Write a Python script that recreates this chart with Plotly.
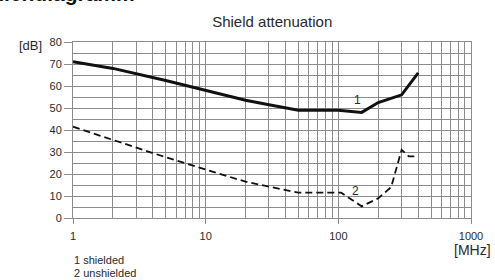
import plotly.graph_objects as go

# Data
freq_shielded = [1, 2, 5, 10, 20, 30, 50, 100, 150, 200, 300, 400]
atten_shielded = [71, 68, 62.5, 58, 53.5, 51.5, 49, 49, 48, 52.5, 56, 66]

freq_unshielded = [1, 2, 4, 10, 20, 50, 105, 150, 200, 250, 300, 340, 400]
atten_unshielded = [41.5, 35.5, 29.5, 22, 16.5, 11.5, 11.5, 5.3, 9, 14, 31, 28, 28]

x_major = [1, 10, 100, 1000]
x_major_labels = ["1", "10", "100", "1000"]
x_minor = [m * d for d in (1, 10, 100) for m in range(2, 10)]
y_ticks = [0, 10, 20, 30, 40, 50, 60, 70, 80]

grid_col = "#8c8c8c"
txt_col = "#2a2a2a"
font_fam = "Liberation Sans, Arial, sans-serif"

fig = go.Figure()
fig.add_trace(go.Scatter(x=freq_shielded, y=atten_shielded, mode="lines",
                         line=dict(color="#111111", width=3), showlegend=False))
fig.add_trace(go.Scatter(x=freq_unshielded, y=atten_unshielded, mode="lines",
                         line=dict(color="#111111", width=1.8, dash="7px,4px"),
                         showlegend=False))

fig.update_layout(
    width=495, height=280,
    margin=dict(l=73, r=18, t=42, b=62),
    paper_bgcolor="white", plot_bgcolor="white",
    font=dict(family=font_fam, color=txt_col, size=11),
    title=dict(text="Shield attenuation", x=0.55, xanchor="center", y=0.922,
               yanchor="middle", font=dict(size=15, color=txt_col)),
)

fig.update_xaxes(
    type="log", range=[0, 3],
    tickmode="array", tickvals=x_major, ticktext=x_major_labels,
    ticks="outside", ticklen=5, tickcolor=grid_col, tickwidth=1,
    ticklabelstandoff=3,
    showgrid=True, gridcolor=grid_col, gridwidth=1,
    showline=True, linecolor=grid_col, linewidth=1, mirror=True,
    minor=dict(tickmode="array", tickvals=x_minor, showgrid=True,
               gridcolor=grid_col, gridwidth=1, ticks=""),
    zeroline=False, tickfont=dict(size=11, color=txt_col),
)
fig.update_yaxes(
    range=[0, 80], tickmode="array", tickvals=y_ticks,
    ticks="outside", ticklen=8, tickcolor=grid_col, tickwidth=1,
    showgrid=True, gridcolor=grid_col, gridwidth=1,
    showline=True, linecolor=grid_col, linewidth=1, mirror=True,
    minor=dict(dtick=5, showgrid=True, gridcolor=grid_col, gridwidth=1, ticks=""),
    zeroline=False, tickfont=dict(size=11, color=txt_col),
)

def py(ypx):
    return (218 - ypx) / 176.0

def px(xpx):
    return (xpx - 73) / 404.0

annos = [
    dict(text="1", x=2.146, y=53.5, xref="x", yref="y", showarrow=False,
         font=dict(size=12, color=txt_col)),
    dict(text="2", x=2.129, y=12.2, xref="x", yref="y", showarrow=False,
         font=dict(size=12, color=txt_col)),
    dict(text="[dB]", x=px(44), y=py(45), xref="paper", yref="paper",
         xanchor="right", yanchor="middle", showarrow=False,
         font=dict(size=13, color=txt_col)),
    dict(text="[MHz]", x=px(499), y=py(250), xref="paper", yref="paper",
         xanchor="right", yanchor="middle", showarrow=False,
         font=dict(size=14, color=txt_col)),
    dict(text="1 shielded", x=px(72), y=py(260), xref="paper", yref="paper",
         xanchor="left", yanchor="middle", showarrow=False,
         font=dict(size=11, color=txt_col)),
    dict(text="2 unshielded", x=px(72), y=py(273), xref="paper", yref="paper",
         xanchor="left", yanchor="middle", showarrow=False,
         font=dict(size=11, color=txt_col)),
    dict(text="<b>Kennliniendiagramm</b>", x=px(138), y=py(7), xref="paper",
         yref="paper", xanchor="right", yanchor="bottom", showarrow=False,
         font=dict(size=21, color="#111111")),
]
fig.update_layout(annotations=annos)

fig.write_html("out.html",
               config={"displayModeBar": False},
               post_script="document.body.style.margin='0';"
                           "document.body.style.overflow='hidden';")
